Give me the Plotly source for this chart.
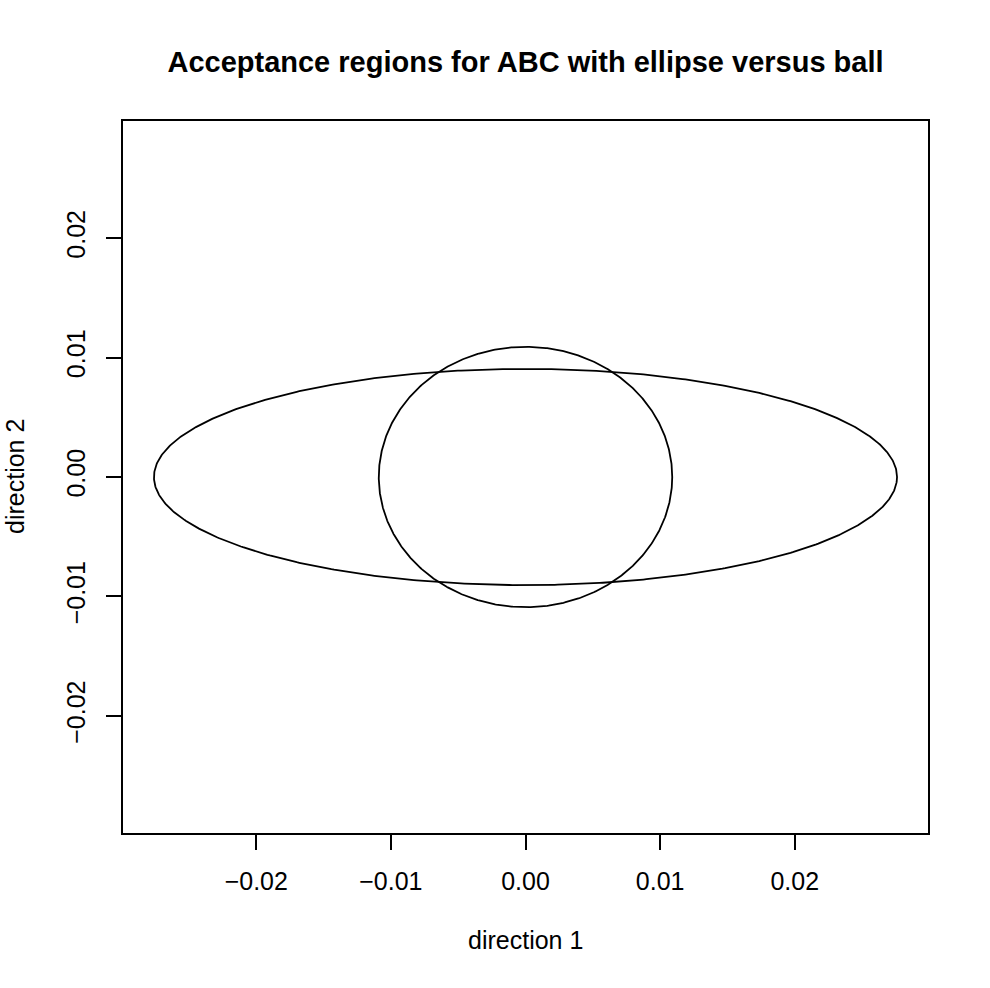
import numpy as np
import plotly.graph_objects as go

# Shapes
ellipse_center = [0.0, 0.0]
ellipse_semi_axes = [0.0276, 0.00905]   # direction 1, direction 2
ball_center = [0.0, 0.0]
ball_radius = [0.0109, 0.0109]

x_ticks = [-0.02, -0.01, 0.0, 0.01, 0.02]
x_tick_labels = ["\u22120.02", "\u22120.01", "0.00", "0.01", "0.02"]
y_ticks = [-0.02, -0.01, 0.0, 0.01, 0.02]
y_tick_labels = ["\u22120.02", "\u22120.01", "0.00", "0.01", "0.02"]

x_range = [-0.0299, 0.0299]
y_range = [-0.0298, 0.0298]

theta = np.linspace(0, 2 * np.pi, 721)

def curve(center, semi):
    return (center[0] + semi[0] * np.cos(theta), center[1] + semi[1] * np.sin(theta))

ex, ey = curve(ellipse_center, ellipse_semi_axes)
bx, by = curve(ball_center, ball_radius)

FONT = "Liberation Sans, Arial, Helvetica, sans-serif"
W, H = 990, 988
ML, MR, MT, MB = 123, 62, 121, 155

fig = go.Figure()
fig.add_trace(go.Scatter(x=ex, y=ey, mode="lines", line=dict(color="black", width=1.8),
                         hoverinfo="skip", showlegend=False))
fig.add_trace(go.Scatter(x=bx, y=by, mode="lines", line=dict(color="black", width=1.8),
                         hoverinfo="skip", showlegend=False))

axis_common = dict(showgrid=False, zeroline=False, showline=True, mirror=True,
                   linecolor="black", linewidth=1.7, ticks="outside", ticklen=15,
                   tickwidth=1.7, tickcolor="black",
                   tickfont=dict(family=FONT, size=25, color="black"))

fig.update_layout(
    width=W, height=H,
    margin=dict(l=ML, r=MR, t=MT, b=MB, pad=0),
    paper_bgcolor="white", plot_bgcolor="white",
    xaxis=dict(range=x_range, tickvals=x_ticks, ticktext=x_tick_labels,
               ticklabelstandoff=10, **axis_common),
    yaxis=dict(range=y_range, tickvals=y_ticks, ticktext=y_tick_labels,
               tickangle=-90, ticklabelstandoff=11, **axis_common),
    title=dict(text="<b>Acceptance regions for ABC with ellipse versus ball</b>",
               font=dict(family=FONT, size=29, color="black"),
               x=0.5, xref="paper", xanchor="center",
               y=1 - 62 / H, yref="container", yanchor="middle"),
    annotations=[
        dict(text="direction 1", x=0.5, xref="paper", y=-(940 - (H - MB)) / (H - MT - MB),
             yref="paper", xanchor="center", yanchor="middle", showarrow=False,
             font=dict(family=FONT, size=25, color="black")),
        dict(text="direction 2", x=-(ML - 15) / (W - ML - MR), xref="paper", y=0.5,
             yref="paper", xanchor="center", yanchor="middle", textangle=-90, showarrow=False,
             font=dict(family=FONT, size=25, color="black")),
    ],
)

fig.write_html("out.html")
